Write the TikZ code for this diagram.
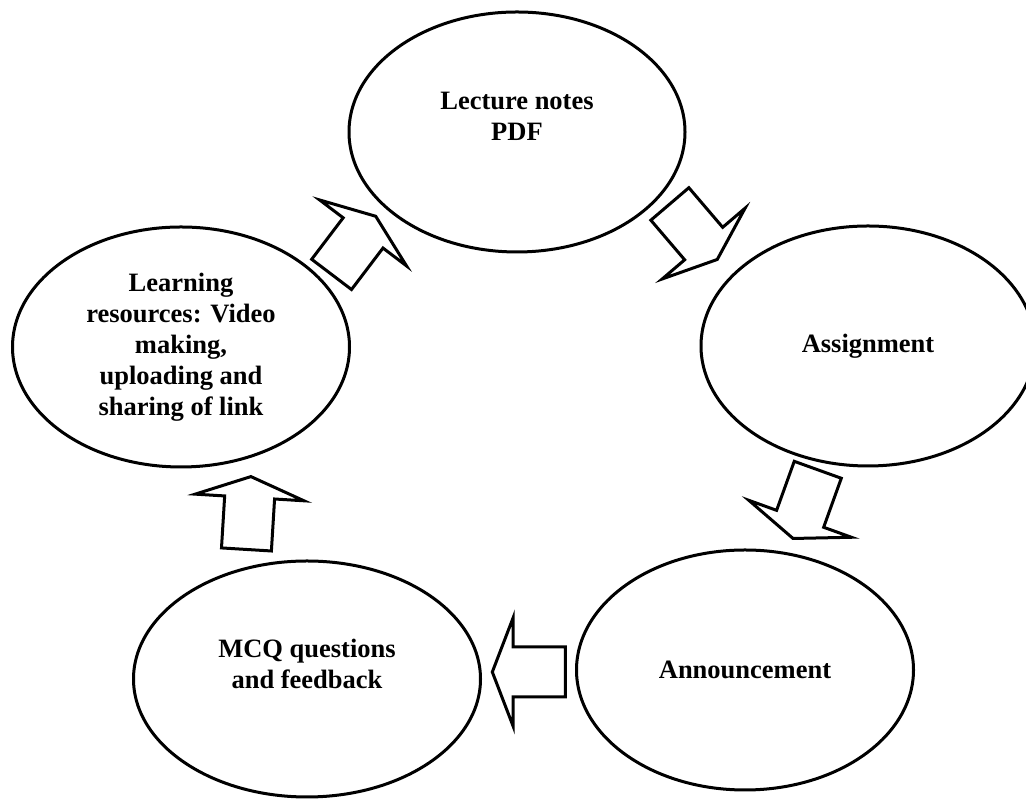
\documentclass[tikz,border=0pt]{standalone}
\usepackage{fontspec}
\setmainfont{Liberation Serif}
\usetikzlibrary{shapes,positioning}

\tikzset{
  topic/.style={ellipse, draw, line width=3pt, inner sep=0pt, align=center,
    minimum width=336pt, minimum height=240pt,
    font=\fontsize{26.5}{31}\selectfont\bfseries},
  blockarrow/.style={single arrow, draw, line width=3pt, inner xsep=0pt, inner ysep=23.5pt,
    minimum height=73pt, single arrow head extend=29.5pt,
    single arrow tip angle=138, anchor=tip},
}

\begin{document}
\begin{tikzpicture}[x=1pt,y=1pt]
    \useasboundingbox (0,0) rectangle (1026,799);

    % Topics of the cycle
    \node[topic] (lecture) at (517,667) {Lecture notes\\PDF\\~};
    \node[topic, minimum width=334pt] (assign) at (868,453) {Assignment};
    \node[topic, minimum width=337pt] (announce) at (745,129) {Announcement};
    \node[topic, minimum width=347pt, minimum height=236pt] (mcq) at (307,120) {MCQ questions\\and feedback\\~};
    \node[topic, minimum width=337pt] (learn) at (181,452) {Learning\\resources: Video\\making,\\uploading and\\sharing of link};

    % Block arrows between topics
    \node[blockarrow, rotate=52.8] (learn2lecture) at (376.7,584) {};
    \node[blockarrow, rotate=-49.5] (lecture2assign) at (718.3,538.3) {};
    \node[blockarrow, rotate=-109.8] (assign2announce) at (792.5,259) {};
    \node[blockarrow, rotate=180] (announce2mcq) at (490.7,127) {};
    \node[blockarrow, rotate=86.5] (mcq2learn) at (251,324) {};
\end{tikzpicture}
\end{document}
